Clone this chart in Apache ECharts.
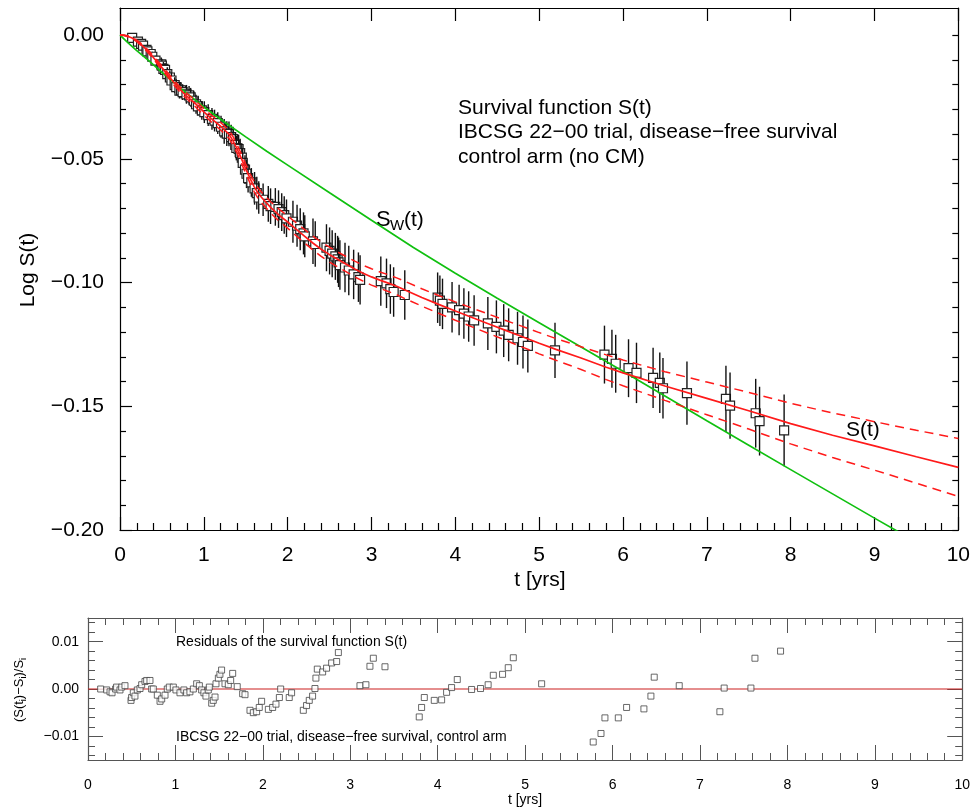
<!DOCTYPE html>
<html><head><meta charset="utf-8">
<script src="https://cdn.jsdelivr.net/npm/echarts@6/dist/echarts.min.js"></script>
<style>html,body{margin:0;padding:0;background:#fff}#c{width:973px;height:808px}</style>
</head><body><div id="c"></div>
<script>
// ---- observed points (time in years) ----
const tObs = [0.145,0.214,0.252,0.275,0.316,0.327,0.366,0.385,0.423,0.492,0.499,0.518,0.537,0.564,0.595,0.614,0.652,0.671,0.709,0.728,0.747,0.793,0.824,0.843,0.881,0.907,0.930,0.976,1.006,1.052,1.097,1.128,1.166,1.205,1.243,1.274,1.300,1.326,1.349,1.376,1.388,1.415,1.433,1.453,1.464,1.491,1.509,1.528,1.567,1.605,1.632,1.655,1.707,1.769,1.796,1.853,1.891,1.929,1.959,1.986,2.063,2.112,2.150,2.189,2.204,2.302,2.329,2.463,2.500,2.531,2.569,2.596,2.607,2.623,2.684,2.729,2.787,2.844,2.864,3.111,3.179,3.225,3.264,3.397,3.789,3.816,3.847,3.961,4.045,4.102,4.159,4.224,4.388,4.490,4.577,4.636,4.742,4.807,4.865,5.189,5.779,5.868,5.913,6.066,6.161,6.359,6.439,6.477,6.763,7.228,7.277,7.583,7.629,7.922];
const logS = [-0.0011,-0.0026,-0.0035,-0.0042,-0.0059,-0.0065,-0.0076,-0.0087,-0.0103,-0.0118,-0.0123,-0.0136,-0.0140,-0.0157,-0.0171,-0.0183,-0.0202,-0.0210,-0.0224,-0.0223,-0.0230,-0.0239,-0.0243,-0.0251,-0.0265,-0.0279,-0.0288,-0.0304,-0.0311,-0.0323,-0.0338,-0.0345,-0.0355,-0.0370,-0.0389,-0.0398,-0.0399,-0.0412,-0.0420,-0.0443,-0.0456,-0.0460,-0.0477,-0.0495,-0.0516,-0.0543,-0.0560,-0.0578,-0.0595,-0.0619,-0.0638,-0.0656,-0.0665,-0.0682,-0.0691,-0.0694,-0.0703,-0.0715,-0.0727,-0.0740,-0.0754,-0.0770,-0.0784,-0.0801,-0.0813,-0.0833,-0.0844,-0.0859,-0.0872,-0.0883,-0.0894,-0.0906,-0.0918,-0.0929,-0.0939,-0.0951,-0.0967,-0.0978,-0.0989,-0.0994,-0.1003,-0.1026,-0.1038,-0.1050,-0.1061,-0.1073,-0.1086,-0.1100,-0.1111,-0.1125,-0.1137,-0.1153,-0.1165,-0.1179,-0.1194,-0.1211,-0.1225,-0.1240,-0.1256,-0.1274,-0.1291,-0.1308,-0.1328,-0.1346,-0.1365,-0.1385,-0.1405,-0.1427,-0.1447,-0.1470,-0.1497,-0.1528,-0.1560,-0.1597];
const errHalf = [0.0015,0.0015,0.0015,0.0015,0.002,0.002,0.002,0.002,0.002,0.0028,0.0028,0.0028,0.0028,0.0028,0.0028,0.0032,0.0032,0.0032,0.0032,0.0032,0.0032,0.0038,0.0038,0.0038,0.0038,0.0038,0.0038,0.0038,0.0044,0.0044,0.0044,0.0044,0.0044,0.0044,0.005,0.005,0.005,0.005,0.005,0.005,0.005,0.0058,0.0058,0.0058,0.0058,0.0058,0.0058,0.0058,0.0058,0.0066,0.0066,0.0066,0.0066,0.0072,0.0072,0.0076,0.0076,0.0076,0.0076,0.0076,0.0085,0.0085,0.0085,0.0085,0.0085,0.0092,0.0092,0.0095,0.0095,0.0095,0.0095,0.0095,0.0100,0.0100,0.0100,0.0100,0.0100,0.0100,0.0100,0.0100,0.0100,0.0100,0.0100,0.0100,0.0102,0.0102,0.0102,0.0102,0.0102,0.0102,0.0102,0.0102,0.0107,0.0107,0.0107,0.0107,0.0107,0.0107,0.0107,0.0112,0.0117,0.0117,0.0117,0.0117,0.0122,0.0122,0.0122,0.0122,0.0128,0.0134,0.0134,0.0139,0.0139,0.0145];
const resid = [0,-0.0002,-0.0006,-0.0008,0,0.0004,-0.0002,0.0004,0.0007,-0.0024,-0.0018,-0.0008,-0.0015,-0.0002,0.0001,0.0009,0.0016,0.0018,0.0018,0,0,-0.0013,-0.0026,-0.0021,-0.0013,0,0.0004,0.0004,-0.0002,-0.0008,-0.0002,-0.0008,-0.0006,0,0.0011,0.0007,-0.0002,-0.0008,-0.0015,-0.0002,0.0004,-0.003,-0.0024,-0.0017,0.0011,0.0023,0.0031,0.004,0.0011,0.0009,0.0018,0.0033,0.0005,-0.001,-0.0012,-0.0045,-0.005,-0.0048,-0.0039,-0.0026,-0.0043,-0.0039,-0.0032,-0.0018,0,-0.0018,-0.0008,-0.0045,-0.0035,-0.0024,-0.0015,0.0001,0.0023,0.0042,0.0036,0.0044,0.0055,0.0058,0.0077,0.0007,0.0009,0.0048,0.0065,0.0047,-0.0059,-0.0039,-0.0018,-0.0024,-0.0023,-0.0007,0.0003,0.002,-0.0001,0.0001,0.0009,0.0029,0.0031,0.0045,0.0066,0.0011,-0.0112,-0.0094,-0.0061,-0.0061,-0.0039,-0.0042,-0.0015,0.0025,0.0007,-0.0048,0.0002,0.0002,0.0065,0.008];

// ---- fitted S(t) and its confidence band ----
const fitT = [0,0.05,0.1,0.15,0.2,0.25,0.3,0.35,0.4,0.45,0.5,0.55,0.6,0.65,0.7,0.75,0.8,0.85,0.9,0.95,1.0,1.1,1.2,1.3,1.35,1.4,1.45,1.5,1.55,1.6,1.65,1.7,1.8,1.9,2.0,2.1,2.2,2.3,2.4,2.5,2.6,2.7,2.8,2.9,3.0,3.1,3.2,3.3,3.4,3.6,3.8,4.0,4.2,4.4,4.6,4.8,5.0,5.2,5.5,5.8,6.0,6.5,7.0,7.5,8.0,8.5,9.0,9.5,10.0];
const fitLogS = [0,0,-0.0005,-0.0012,-0.0023,-0.0037,-0.0053,-0.0071,-0.0091,-0.0111,-0.0131,-0.0152,-0.0173,-0.0194,-0.0213,-0.0231,-0.0247,-0.0262,-0.0277,-0.0293,-0.0310,-0.0340,-0.0368,-0.0400,-0.0428,-0.0462,-0.0500,-0.0540,-0.0578,-0.0612,-0.0640,-0.0660,-0.0697,-0.0728,-0.0755,-0.0784,-0.0812,-0.0840,-0.0865,-0.0887,-0.0907,-0.0926,-0.0945,-0.0962,-0.0977,-0.0990,-0.1002,-0.1015,-0.1030,-0.1060,-0.1088,-0.1115,-0.1141,-0.1167,-0.1193,-0.1219,-0.1245,-0.1270,-0.1305,-0.1342,-0.1365,-0.1418,-0.1468,-0.1518,-0.1570,-0.1617,-0.1660,-0.1704,-0.1747];
const bandUpper = [0,0,-0.0003,-0.0009,-0.0020,-0.0033,-0.0048,-0.0065,-0.0085,-0.0104,-0.0123,-0.0144,-0.0164,-0.0184,-0.0203,-0.0220,-0.0236,-0.0250,-0.0265,-0.0280,-0.0297,-0.0326,-0.0353,-0.0384,-0.0411,-0.0445,-0.0482,-0.0521,-0.0559,-0.0592,-0.0619,-0.0639,-0.0674,-0.0704,-0.0730,-0.0758,-0.0785,-0.0812,-0.0836,-0.0857,-0.0877,-0.0895,-0.0913,-0.0930,-0.0944,-0.0957,-0.0968,-0.0981,-0.0995,-0.1025,-0.1052,-0.1078,-0.1103,-0.1128,-0.1153,-0.1177,-0.1202,-0.1226,-0.1259,-0.1292,-0.1313,-0.1360,-0.1402,-0.1444,-0.1488,-0.1527,-0.1562,-0.1597,-0.1630];
const bandLower = [0,-0.0001,-0.0007,-0.0015,-0.0026,-0.0041,-0.0058,-0.0077,-0.0097,-0.0118,-0.0139,-0.0160,-0.0182,-0.0204,-0.0223,-0.0242,-0.0258,-0.0274,-0.0289,-0.0306,-0.0323,-0.0354,-0.0383,-0.0416,-0.0445,-0.0479,-0.0518,-0.0559,-0.0597,-0.0632,-0.0661,-0.0681,-0.0720,-0.0752,-0.0780,-0.0810,-0.0839,-0.0868,-0.0894,-0.0917,-0.0937,-0.0957,-0.0977,-0.0994,-0.1010,-0.1023,-0.1036,-0.1049,-0.1065,-0.1095,-0.1124,-0.1152,-0.1179,-0.1206,-0.1233,-0.1261,-0.1288,-0.1314,-0.1351,-0.1392,-0.1417,-0.1476,-0.1534,-0.1592,-0.1652,-0.1707,-0.1758,-0.1811,-0.1864];

// ---- S_W(t) curve ----
const swT = [0,0.1,0.2,0.35,0.5,0.75,1.0,1.25,1.5,1.75,2.0,2.5,3.0,3.5,4.0,4.5,5.0,5.5,6.0,6.5,7.0,7.5,8.0,8.5,9.0,9.3];
const swLogS = [0,-0.0032,-0.0062,-0.0105,-0.0150,-0.0222,-0.0290,-0.0352,-0.0411,-0.0469,-0.0525,-0.0637,-0.0748,-0.0858,-0.0962,-0.1063,-0.1162,-0.1260,-0.1358,-0.1458,-0.1558,-0.1657,-0.1756,-0.1854,-0.1952,-0.2010];

// ---- tick values ----
const mainYTicks = [-0.2,-0.15,-0.1,-0.05,0];
const mainYMinor = [-0.19,-0.18,-0.17,-0.16,-0.14,-0.13,-0.12,-0.11,-0.09,-0.08,-0.07,-0.06,-0.04,-0.03,-0.02,-0.01];
const mainYAll = [-0.2,-0.19,-0.18,-0.17,-0.16,-0.15,-0.14,-0.13,-0.12,-0.11,-0.1,-0.09,-0.08,-0.07,-0.06,-0.05,-0.04,-0.03,-0.02,-0.01,0];
const resYTicks = [-0.01,0,0.01];
const resYMinor = [-0.014,-0.012,-0.008,-0.006,-0.004,-0.002,0.002,0.004,0.006,0.008,0.012,0.014];

const FONT = '"Liberation Sans", Arial, sans-serif';
const fmt2 = v => (v < -1e-9 ? '\u2212' : '') + Math.abs(v).toFixed(2);

const chart = echarts.init(document.getElementById('c'), null, {renderer: 'canvas'});

const obsData = tObs.map((t, i) => [t, logS[i], errHalf[i]]);
const residData = tObs.map((t, i) => [t, resid[i]]);
const zip = (a, b) => a.map((v, i) => [v, b[i]]);

const black = '#000';
function xAx(grid, pos, opts) {
  return Object.assign({
    type: 'value', gridIndex: grid, position: pos, min: 0, max: 10, interval: 1,
    axisLine: {show: true, onZero: false, lineStyle: {color: black, width: 1.2}},
    axisTick: {show: true, inside: true, length: 13, lineStyle: {color: black, width: 1.2}},
    minorTick: {show: false},
    axisLabel: {show: false},
    splitLine: {show: false}
  }, opts);
}
function yAx(grid, pos, min, max, opts) {
  return Object.assign({
    type: 'value', gridIndex: grid, position: pos, min: min, max: max,
    axisLine: {show: false, onZero: false, lineStyle: {color: black, width: 1.2}},
    axisTick: {show: false},
    axisLabel: {show: false},
    splitLine: {show: false}
  }, opts);
}

const option = {
  animation: false,
  backgroundColor: '#fff',
  grid: [
    {left: 120, top: 8, width: 839, height: 522},
    {left: 88, top: 618, width: 876, height: 142}
  ],
  xAxis: [
    xAx(0, 'bottom', {
      minorTick: {show: true, splitNumber: 5, length: 7, lineStyle: {color: black, width: 1.2}},
      axisLabel: {show: true, fontSize: 21, fontFamily: FONT, color: black, margin: 15}
    }),
    xAx(0, 'top', {}),
    xAx(1, 'bottom', {
      axisLine: {show: true, onZero: false, lineStyle: {color: '#555', width: 1.2}},
      axisTick: {show: true, inside: true, length: 15, lineStyle: {color: '#555', width: 1}},
      minorTick: {show: true, splitNumber: 5, length: 7, lineStyle: {color: '#555', width: 1}},
      axisLabel: {show: true, fontSize: 14, fontFamily: FONT, color: black, margin: 18}
    }),
    xAx(1, 'top', {
      axisLine: {show: true, onZero: false, lineStyle: {color: '#555', width: 1.2}},
      axisTick: {show: true, inside: true, length: 15, lineStyle: {color: '#555', width: 1}},
      minorTick: {show: true, splitNumber: 5, length: 7, lineStyle: {color: '#555', width: 1}}
    })
  ],
  yAxis: [
    yAx(0, 'left', -0.2, 0.011, {
      axisLine: {show: true, onZero: false, lineStyle: {color: black, width: 1.2}},
      axisTick: {show: true, inside: true, length: 12, customValues: mainYTicks, lineStyle: {color: black, width: 1.2}},
      axisLabel: {show: true, customValues: mainYTicks, formatter: fmt2, fontSize: 21, fontFamily: FONT, color: black, margin: 16}
    }),
    yAx(0, 'left', -0.2, 0.011, {
      axisTick: {show: true, inside: true, length: 6, customValues: mainYMinor, lineStyle: {color: black, width: 1.2}}
    }),
    yAx(0, 'right', -0.2, 0.011, {
      axisLine: {show: true, onZero: false, lineStyle: {color: black, width: 1.2}},
      axisTick: {show: true, inside: true, length: 6, customValues: mainYAll, lineStyle: {color: black, width: 1.2}}
    }),
    yAx(1, 'left', -0.015, 0.015, {
      axisLine: {show: true, onZero: false, lineStyle: {color: '#555', width: 1.2}},
      axisTick: {show: true, inside: true, length: 15, customValues: resYTicks, lineStyle: {color: '#555', width: 1}},
      axisLabel: {show: true, customValues: resYTicks, formatter: fmt2, fontSize: 14, fontFamily: FONT, color: black, margin: 9}
    }),
    yAx(1, 'left', -0.015, 0.015, {
      axisTick: {show: true, inside: true, length: 7, customValues: resYMinor, lineStyle: {color: '#555', width: 1}}
    }),
    yAx(1, 'right', -0.015, 0.015, {
      axisLine: {show: true, onZero: false, lineStyle: {color: '#555', width: 1.2}},
      axisTick: {show: true, inside: true, length: 15, customValues: resYTicks, lineStyle: {color: '#555', width: 1}}
    }),
    yAx(1, 'right', -0.015, 0.015, {
      axisTick: {show: true, inside: true, length: 7, customValues: resYMinor, lineStyle: {color: '#555', width: 1}}
    })
  ],
  series: [
    {
      type: 'custom', xAxisIndex: 0, yAxisIndex: 0, z: 2,
      data: obsData,
      encode: {x: 0, y: 1},
      clip: true,
      renderItem: function (params, api) {
        const t = api.value(0), y = api.value(1), e = api.value(2);
        const p = api.coord([t, y]);
        const pt = api.coord([t, y + e]);
        const pb = api.coord([t, y - e]);
        const s = 9;
        return {
          type: 'group',
          children: [
            {type: 'line', shape: {x1: p[0], y1: pt[1], x2: p[0], y2: pb[1]}, style: {stroke: '#111', lineWidth: 1.4}},
            {type: 'rect', shape: {x: p[0] - s / 2, y: p[1] - s / 2, width: s, height: s}, style: {fill: '#fff', stroke: '#222', lineWidth: 1.2}}
          ]
        };
      }
    },
    {
      type: 'line', xAxisIndex: 0, yAxisIndex: 0, z: 5, showSymbol: false, symbol: 'none',
      data: zip(swT, swLogS), smooth: false,
      lineStyle: {color: '#10c010', width: 1.7}
    },
    {
      type: 'line', xAxisIndex: 0, yAxisIndex: 0, z: 6, showSymbol: false, symbol: 'none',
      data: zip(fitT, bandUpper),
      lineStyle: {color: '#ff1a1a', width: 1.5, type: [9, 6]}
    },
    {
      type: 'line', xAxisIndex: 0, yAxisIndex: 0, z: 6, showSymbol: false, symbol: 'none',
      data: zip(fitT, bandLower),
      lineStyle: {color: '#ff1a1a', width: 1.5, type: [9, 6]}
    },
    {
      type: 'line', xAxisIndex: 0, yAxisIndex: 0, z: 7, showSymbol: false, symbol: 'none',
      data: zip(fitT, fitLogS),
      lineStyle: {color: '#ff1a1a', width: 1.7}
    },
    {
      type: 'line', xAxisIndex: 2, yAxisIndex: 3, z: 3, showSymbol: false, symbol: 'none',
      data: [[0, 0], [10, 0]],
      lineStyle: {color: '#cc1f1f', width: 1.2}
    },
    {
      type: 'scatter', xAxisIndex: 2, yAxisIndex: 3, z: 4,
      data: residData, symbol: 'rect', symbolSize: 6,
      itemStyle: {color: '#fff', borderColor: '#444', borderWidth: 1}
    }
  ],
  graphic: [
    {type: 'text', x: 458, y: 108, style: {text: 'Survival function S(t)', font: '21px ' + FONT, fill: black, align: 'left', verticalAlign: 'middle'}},
    {type: 'text', x: 458, y: 132, style: {text: 'IBCSG 22\u221200 trial, disease\u2212free survival', font: '21px ' + FONT, fill: black, align: 'left', verticalAlign: 'middle'}},
    {type: 'text', x: 458, y: 157, style: {text: 'control arm (no CM)', font: '21px ' + FONT, fill: black, align: 'left', verticalAlign: 'middle'}},
    {type: 'text', x: 376, y: 220, style: {text: 'S', font: '22px ' + FONT, fill: black, align: 'left', verticalAlign: 'middle'}},
    {type: 'text', x: 390, y: 226, style: {text: 'W', font: '15px ' + FONT, fill: black, align: 'left', verticalAlign: 'middle'}},
    {type: 'text', x: 404, y: 220, style: {text: '(t)', font: '21px ' + FONT, fill: black, align: 'left', verticalAlign: 'middle'}},
    {type: 'text', x: 846, y: 430, style: {text: 'S(t)', font: '21px ' + FONT, fill: black, align: 'left', verticalAlign: 'middle'}},
    {type: 'text', x: 28, y: 270, rotation: Math.PI / 2, style: {text: 'Log S(t)', font: '21px ' + FONT, fill: black, align: 'center', verticalAlign: 'middle'}},
    {type: 'text', x: 540, y: 580, style: {text: 't [yrs]', font: '21px ' + FONT, fill: black, align: 'center', verticalAlign: 'middle'}},
    {type: 'text', x: 176, y: 642, style: {text: 'Residuals of the survival function S(t)', font: '14px ' + FONT, fill: black, align: 'left', verticalAlign: 'middle'}},
    {type: 'text', x: 176, y: 737, style: {text: 'IBCSG 22\u221200 trial, disease\u2212free survival, control arm', font: '14px ' + FONT, fill: black, align: 'left', verticalAlign: 'middle'}},
    {type: 'text', x: 525, y: 800, style: {text: 't [yrs]', font: '14px ' + FONT, fill: black, align: 'center', verticalAlign: 'middle'}},
    {type: 'text', x: 19, y: 690, rotation: Math.PI / 2, style: {
      text: '{m|(S(t}{s|i}{m|)\u2212S}{s|i}{m|)/S}{s|i}',
      align: 'center', verticalAlign: 'middle',
      rich: {
        m: {fontSize: 13, fontFamily: FONT, fill: black, lineHeight: 18},
        s: {fontSize: 9, fontFamily: FONT, fill: black, lineHeight: 10, verticalAlign: 'bottom'}
      }
    }}
  ]
};
chart.setOption(option);
</script>
</body></html>
